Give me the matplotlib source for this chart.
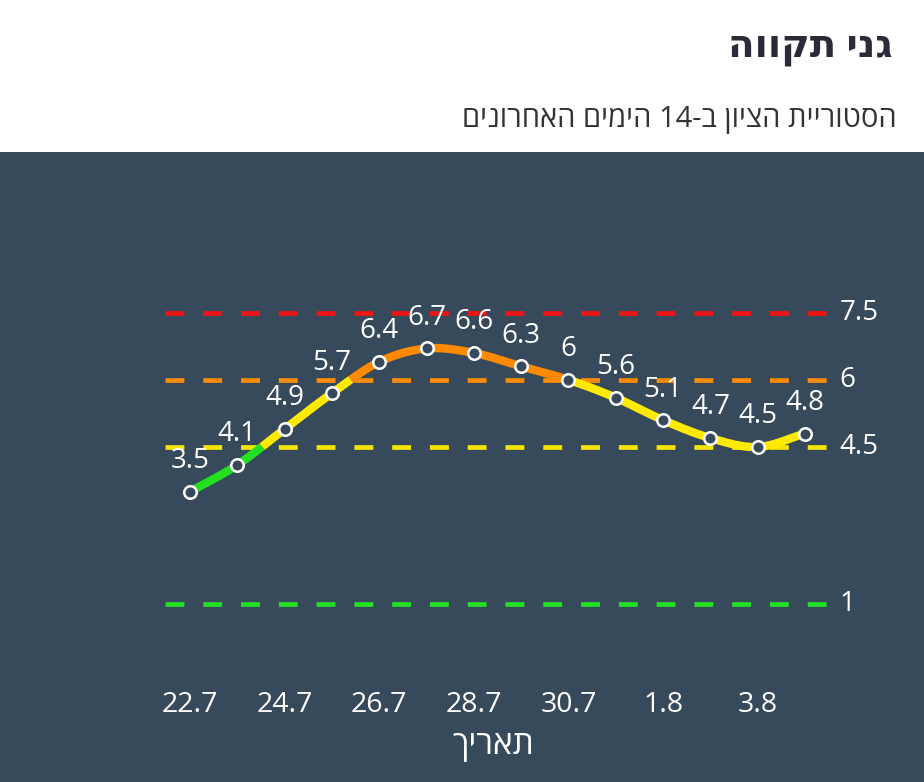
import numpy as np
import matplotlib
matplotlib.use("Agg")
import matplotlib.pyplot as plt
from matplotlib.patches import Rectangle

# נתונים - 14 הימים האחרונים
dates = ["22.7", "23.7", "24.7", "25.7", "26.7", "27.7", "28.7",
         "29.7", "30.7", "31.7", "1.8", "2.8", "3.8", "4.8"]
scores = [3.5, 4.1, 4.9, 5.7, 6.4, 6.7, 6.6, 6.3, 6.0, 5.6, 5.1, 4.7, 4.5, 4.8]

thresholds = [7.5, 6, 4.5, 1]
threshold_labels = ["7.5", "6", "4.5", "1"]
threshold_colors = ["#f01414", "#ff8c00", "#f5e600", "#22e022"]

# matplotlib does not do RTL, so the hebrew strings are stored in visual order
title = "גני תקווה"[::-1]
subtitle = "םינורחאה םימיה 14-ב ןויצה תיירוטסה"
xlabel = "תאריך"[::-1]

bg = "#374a5b"
plt.rcParams['font.family'] = ['Open Sans', 'DejaVu Sans']

fig = plt.figure(figsize=(9.24, 7.82), dpi=100)
fig.patch.set_facecolor("white")
fig.patches.append(Rectangle((0, 0), 1, 630/782, transform=fig.transFigure,
                             facecolor=bg, edgecolor="none", zorder=-10))

ax = fig.add_axes([0, (782-680)/782, 1, (680-152)/782])
ax.set_facecolor("none")
x = np.arange(len(scores))
ax.set_xlim(-190/47.31, 13 + 119/47.31)
ax.set_ylim(4.5 - (680-447)/44.8, 4.5 + (447-152)/44.8)
for s in ax.spines.values():
    s.set_visible(False)
ax.set_yticks([])
ax.set_xticks(x[::2])
ax.set_xticklabels(dates[::2], color="white", fontsize=20.5)
ax.tick_params(axis="x", length=0, pad=8)

# קווי סף
for v, lab, c in zip(thresholds, threshold_labels, threshold_colors):
    ax.plot([x[0]-0.53, x[-1]+0.53], [v, v], color=c, lw=3.4, dashes=(4, 4), zorder=1)
    ax.annotate(lab, (x[-1]+0.53, v), xytext=(7, 0), textcoords="offset points",
                color="white", fontsize=20, va="center", ha="left")

# smooth curve (catmull-rom) just for drawing the line
def smooth(xs, ys, n=40):
    xs = np.asarray(xs, float); ys = np.asarray(ys, float)
    m = np.gradient(ys, xs)
    m[1:-1] = (ys[2:] - ys[:-2]) / 2
    px, py = [], []
    for i in range(len(xs)-1):
        t = np.linspace(0, 1, n, endpoint=False)
        h00 = 2*t**3 - 3*t**2 + 1
        h10 = t**3 - 2*t**2 + t
        h01 = -2*t**3 + 3*t**2
        h11 = t**3 - t**2
        px.append(xs[i] + t)
        py.append(h00*ys[i] + h10*m[i] + h01*ys[i+1] + h11*m[i+1])
    px.append([xs[-1]]); py.append([ys[-1]])
    return np.concatenate(px), np.concatenate(py)

def color_for(v):
    if v < 4.5:
        return "#22e01e"
    if v < 6:
        return "#ffea00"
    if v < 7.5:
        return "#ff8a00"
    return "#f01414"

sx, sy = smooth(x, scores)
mid = (sy[:-1] + sy[1:]) / 2
cols = [color_for(v) for v in mid]
start = 0
for i in range(1, len(cols)+1):
    if i == len(cols) or cols[i] != cols[start]:
        ax.plot(sx[start:i+1], sy[start:i+1], color=cols[start], lw=6,
                solid_capstyle="butt", solid_joinstyle="round", zorder=2)
        start = i

ax.plot(x, scores, "o", mfc=bg, mec="white", ms=9, mew=1.8, zorder=3)
for xi, v in zip(x, scores):
    ax.annotate(f"{v:g}", (xi, v), xytext=(0, 17), textcoords="offset points",
                ha="center", va="baseline", color="white", fontsize=20, zorder=4)

fig.text(493/924, 1-745/782, xlabel, color="white", fontsize=24, ha="center", va="center")
fig.text(893/924, 1-47/782, title, color="#2a2a38", fontsize=28, fontweight="bold",
         ha="right", va="center")
fig.text(897/924, 1-119/782, subtitle, color="#333333", fontsize=21, ha="right", va="center")

fig.savefig("out.png", dpi=100, facecolor="white")
